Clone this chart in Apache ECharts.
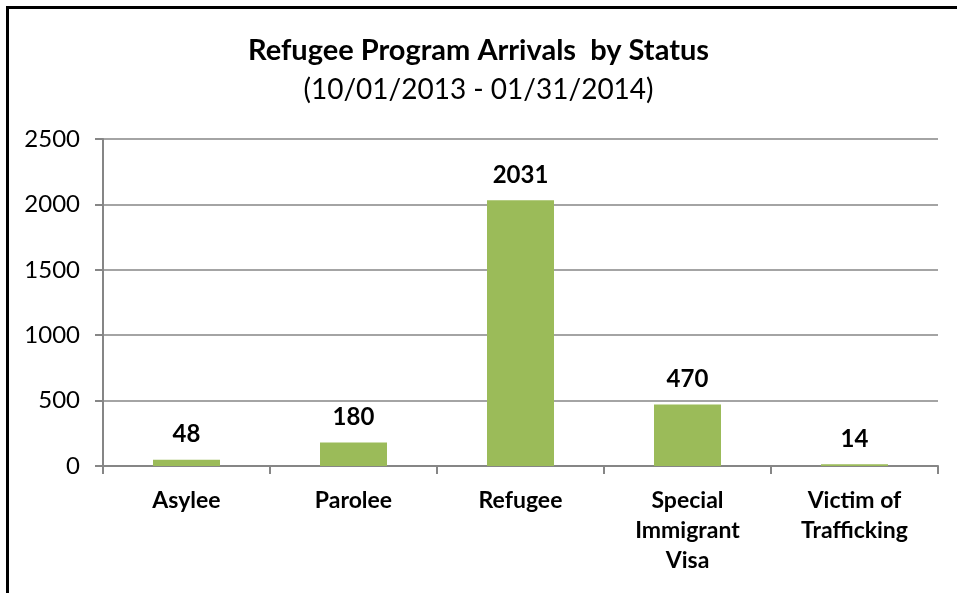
<!DOCTYPE html>
<html>
<head>
<meta charset="utf-8">
<script src="https://cdn.jsdelivr.net/npm/echarts@6/dist/echarts.min.js"></script>
<style>
  html, body { margin: 0; padding: 0; background: #fff; }
  #chart { position: absolute; left: 0; top: 0; width: 957px; height: 593px; }
  #frame { position: absolute; left: 6px; top: 6px; width: 960px; height: 600px;
           border-top: 3px solid #000; border-left: 3px solid #000; pointer-events: none; }
</style>
</head>
<body>
<div id="chart"></div>
<div id="frame"></div>
<script>
const titleText = 'Refugee Program Arrivals  by Status';
const subtitleText = '(10/01/2013 - 01/31/2014)';
const categories = ['Asylee', 'Parolee', 'Refugee', 'Special\nImmigrant\nVisa', 'Victim of\nTrafficking'];
const arrivals = [48, 180, 2031, 470, 14];
const yMin = 0, yMax = 2500, yInterval = 500;

const FONT = 'Lato, "Open Sans", sans-serif';
const chart = echarts.init(document.getElementById('chart'));
chart.setOption({
  animation: false,
  backgroundColor: '#fff',
  title: [{
    text: titleText,
    left: 'center',
    top: 31,
    textStyle: { fontFamily: FONT, fontSize: 29, lineHeight: 30, fontWeight: 'bold', color: '#000' }
  }, {
    text: subtitleText,
    left: 'center',
    top: 70,
    textStyle: { fontFamily: FONT, fontSize: 28, lineHeight: 30, fontWeight: 'normal', color: '#000' }
  }],
  grid: { left: 103, right: 19, top: 139, bottom: 127 },
  xAxis: {
    type: 'category',
    data: categories,
    boundaryGap: true,
    axisLine: { lineStyle: { color: '#868686', width: 2 } },
    axisTick: { show: true, alignWithLabel: false, length: 8, lineStyle: { color: '#868686', width: 2 } },
    axisLabel: { interval: 0, margin: 20, fontFamily: FONT, fontSize: 23, fontWeight: 'bold', color: '#000', lineHeight: 30 }
  },
  yAxis: {
    type: 'value',
    min: yMin, max: yMax, interval: yInterval,
    axisLine: { show: true, lineStyle: { color: '#868686', width: 2 } },
    axisTick: { show: true, length: 8, lineStyle: { color: '#868686', width: 2 } },
    splitLine: { lineStyle: { color: '#868686', width: 1.5 } },
    axisLabel: { margin: 23, fontFamily: FONT, fontSize: 24, color: '#000', formatter: v => String(v) }
  },
  series: [{
    type: 'bar',
    data: arrivals,
    barWidth: 67,
    itemStyle: { color: '#9BBB59' },
    label: { show: true, position: 'top', distance: 13, fontFamily: FONT, fontSize: 24, fontWeight: 'bold', color: '#000' }
  }]
});
</script>
</body>
</html>
